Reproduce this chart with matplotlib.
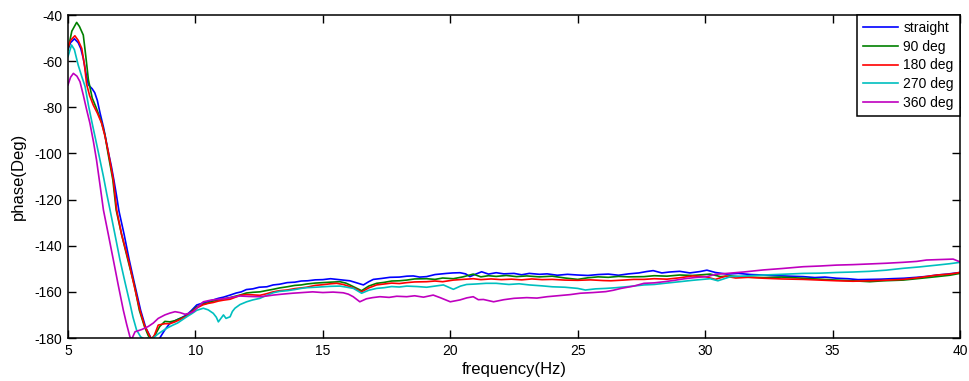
import numpy as np
import matplotlib
matplotlib.use("Agg")
import matplotlib.pyplot as plt

# phase curves, (frequency Hz, phase deg)
f_straight, p_straight = np.array([
    (5.0, -55), (5.1, -52), (5.25, -50.3), (5.4, -52), (5.5, -54.5), (5.6, -58.8), (5.7, -65),
    (5.8, -70.3), (5.95, -72), (6.05, -73.7), (6.15, -77), (6.26, -82.6), (6.4, -89), (6.58, -99.3),
    (6.7, -105.5), (6.8, -111.5), (6.9, -118), (7.0, -125), (7.2, -135), (7.4, -146), (7.6, -156),
    (7.85, -168), (8.05, -175.5), (8.3, -181), (8.45, -182), (8.6, -180), (8.8, -176.5), (9.0, -173.6),
    (9.2, -172.5), (9.4, -171.5), (9.66, -170), (9.85, -168), (10.05, -165.7), (10.3, -164.8),
    (10.5, -164.2), (10.7, -163.5), (10.9, -162.8), (11.1, -162.3), (11.36, -161.4), (11.6, -160.5),
    (11.8, -160), (12.0, -159), (12.25, -158.7), (12.5, -158), (12.8, -157.8), (13.05, -157),
    (13.3, -156.7), (13.6, -156), (13.9, -155.8), (14.15, -155.3), (14.4, -155.2), (14.7, -154.8),
    (15.0, -154.7), (15.3, -154.3), (15.55, -154.6), (15.8, -154.9), (16.06, -155.2), (16.3, -156),
    (16.59, -157), (16.8, -155.6), (16.98, -154.6), (17.3, -154.2), (17.63, -153.7), (18.0, -153.6),
    (18.3, -153.2), (18.55, -153.1), (18.8, -153.6), (19.07, -153.4), (19.4, -152.5), (19.86, -152),
    (20.1, -151.8), (20.38, -151.7), (20.6, -152.2), (20.77, -153.4), (21.0, -152.3), (21.23, -151.3),
    (21.5, -152.3), (21.8, -151.7), (22.1, -152.2), (22.5, -152), (22.8, -152.6), (23.1, -152),
    (23.5, -152.4), (23.8, -152.2), (24.2, -152.8), (24.6, -152.4), (25.0, -152.7), (25.4, -152.9),
    (25.8, -152.5), (26.2, -152.3), (26.6, -152.8), (27.0, -152.2), (27.4, -151.8), (27.7, -151.2),
    (27.96, -150.8), (28.3, -151.8), (28.6, -151.4), (29.0, -151.1), (29.4, -151.8), (29.8, -151.2),
    (30.07, -150.6), (30.4, -151.6), (30.85, -152.3), (31.3, -152.0), (31.8, -152.5), (32.3, -152.7),
    (32.8, -153.0), (33.3, -153.2), (33.85, -153.4), (34.3, -153.8), (34.7, -153.6), (35.16, -154.1),
    (35.6, -154.3), (36.0, -154.7), (36.46, -154.6), (36.9, -154.5), (37.3, -154.3), (37.8, -154.1),
    (38.3, -153.7), (38.7, -153.3), (39.1, -152.7), (39.5, -152.3), (40.0, -151.6),
]).T

f_90, p_90 = np.array([
    (5.0, -55), (5.15, -47), (5.34, -43.2), (5.45, -45), (5.6, -48.7), (5.7, -58), (5.8, -68),
    (5.95, -76), (6.1, -80), (6.3, -86), (6.45, -92), (6.56, -99.3), (6.76, -111.5), (6.89, -124.5),
    (7.1, -135), (7.35, -146.2), (7.6, -157), (7.8, -168), (8.0, -175), (8.15, -179), (8.25, -180.5),
    (8.4, -179), (8.6, -175), (8.8, -172.8), (9.0, -173), (9.2, -172.5), (9.4, -171.5), (9.66, -170.5),
    (9.85, -168.5), (10.05, -166.5), (10.3, -165.3), (10.5, -164.8), (10.7, -164), (10.9, -163.5),
    (11.1, -163), (11.36, -162.5), (11.6, -161.8), (11.75, -161.4), (12.0, -160.5), (12.25, -160.2),
    (12.53, -160), (12.8, -159.4), (13.05, -158.9), (13.3, -158.3), (13.6, -157.8), (13.9, -157.2),
    (14.15, -157), (14.36, -156.6), (14.7, -156.2), (15.0, -156), (15.3, -155.8), (15.67, -155.6),
    (15.9, -156.2), (16.06, -157), (16.3, -158.3), (16.52, -159.5), (16.8, -157.5), (17.11, -156.3),
    (17.4, -155.9), (17.7, -155.3), (18.0, -155.2), (18.29, -154.9), (18.6, -154.4), (19.07, -154.3),
    (19.4, -154.6), (19.7, -154), (20.12, -154.3), (20.5, -153.5), (20.9, -152.3), (21.2, -153.5),
    (21.5, -153), (21.8, -153.3), (22.2, -152.9), (22.6, -153.4), (23.0, -153.1), (23.5, -153.5),
    (24.0, -153.2), (24.5, -154), (25.0, -154.6), (25.4, -153.9), (25.8, -153.5), (26.2, -153.7),
    (26.6, -153.3), (27.0, -153.5), (27.6, -153.4), (28.0, -153), (28.5, -153.2), (29.0, -152.7),
    (29.5, -152.9), (30.2, -152.3), (30.6, -153.4), (31.0, -153.1), (31.5, -153.6), (32.3, -153.8),
    (33.0, -153.6), (33.85, -154.1), (34.5, -154.5), (35.16, -154.9), (35.8, -155.2), (36.46, -155.6),
    (37.0, -155.2), (37.77, -154.9), (38.4, -154.2), (39.1, -153.4), (39.6, -152.8), (40.0, -152),
]).T

f_180, p_180 = np.array([
    (5.0, -54), (5.1, -51), (5.27, -49), (5.4, -51), (5.54, -54.5), (5.65, -62), (5.73, -70),
    (5.85, -75), (5.99, -79), (6.15, -82.5), (6.32, -86.9), (6.45, -92.5), (6.58, -99.3),
    (6.78, -111.5), (6.91, -124.5), (7.1, -135), (7.37, -146.2), (7.6, -157.5), (7.82, -167.9),
    (8.0, -174.5), (8.22, -179.5), (8.3, -180.5), (8.4, -178.5), (8.54, -174.4), (8.8, -173.8),
    (9.0, -173.8), (9.2, -173), (9.4, -172), (9.66, -170.5), (9.85, -168.8), (10.05, -167),
    (10.3, -165.6), (10.5, -165), (10.7, -164.6), (10.9, -164), (11.1, -163.6), (11.36, -163.2),
    (11.6, -162.2), (11.75, -161.5), (12.0, -161.2), (12.25, -161.3), (12.53, -161.5), (12.8, -160.8),
    (13.05, -160), (13.3, -159.5), (13.6, -159.2), (13.9, -158.6), (14.15, -158.3), (14.36, -158),
    (14.7, -157.2), (15.0, -156.9), (15.3, -156.5), (15.54, -156.3), (15.8, -156.8), (16.06, -157.7),
    (16.3, -158.8), (16.52, -160), (16.8, -158.3), (17.11, -157), (17.4, -156.6), (17.7, -156.2),
    (18.0, -156.4), (18.29, -156), (18.6, -155.7), (19.07, -155.6), (19.4, -155.3), (19.7, -155.6),
    (20.12, -154.9), (20.5, -154.6), (20.9, -154.3), (21.2, -154.7), (21.6, -154.4), (22.0, -154.7),
    (22.4, -154.5), (22.8, -154.8), (23.2, -154.4), (23.6, -154.7), (24.0, -154.6), (24.5, -154.9),
    (25.0, -155), (25.5, -154.8), (26.0, -155.1), (26.3, -155.2), (26.8, -154.9), (27.2, -154.6),
    (27.6, -154.6), (28.0, -154.3), (28.5, -154.5), (29.0, -153.9), (29.5, -153.1), (30.0, -153.4),
    (30.4, -154.6), (30.8, -153.2), (31.2, -154), (31.7, -153.7), (32.3, -154.1), (33.0, -154.4),
    (33.85, -154.6), (34.5, -154.9), (35.16, -155.2), (35.8, -155.4), (36.46, -155.2), (37.0, -155.0),
    (37.77, -154.6), (38.4, -153.8), (39.1, -152.7), (39.6, -152.3), (40.0, -151.6),
]).T

f_270, p_270 = np.array([
    (5.0, -58), (5.14, -53), (5.25, -55), (5.4, -61.7), (5.55, -67), (5.67, -71), (5.8, -79),
    (5.93, -86), (6.06, -92.7), (6.22, -101), (6.39, -110), (6.52, -117.5), (6.65, -124.5),
    (6.84, -135), (7.04, -146.2), (7.24, -156), (7.43, -165), (7.55, -171), (7.69, -176.5),
    (7.85, -179.5), (8.0, -180.5), (8.15, -180), (8.3, -180.5), (8.5, -178.5), (8.7, -177),
    (8.87, -175.8), (9.1, -174.5), (9.3, -173.5), (9.5, -172), (9.66, -170.8), (9.85, -169.5),
    (10.05, -168), (10.31, -167.1), (10.5, -167.8), (10.7, -169.3), (10.82, -171), (10.9, -173),
    (11.0, -171.5), (11.1, -170), (11.2, -171.5), (11.36, -170.8), (11.45, -168.5), (11.55, -167.1),
    (11.75, -165.5), (12.01, -164.3), (12.25, -163.5), (12.53, -162.8), (12.8, -161.5), (13.05, -160.4),
    (13.3, -159.8), (13.6, -159.5), (13.9, -159), (14.15, -158.5), (14.36, -158.2), (14.7, -158),
    (15.0, -157.8), (15.3, -157.6), (15.67, -157.5), (15.9, -157.9), (16.2, -158.5), (16.52, -160.6),
    (16.8, -159.3), (17.11, -158.5), (17.4, -158.2), (17.7, -157.7), (18.0, -157.9), (18.29, -157.5),
    (18.7, -157.7), (19.07, -158), (19.4, -157.5), (19.73, -157), (20.12, -158.9), (20.4, -157.5),
    (20.64, -156.8), (21.0, -156.6), (21.4, -156.3), (21.8, -156.3), (22.3, -156.8), (22.7, -156.5),
    (23.1, -157), (23.6, -157.4), (24.0, -157.8), (24.5, -158), (25.0, -158.5), (25.3, -159.2),
    (25.7, -158.7), (26.1, -158.5), (26.5, -158.2), (27.0, -157.7), (27.6, -157), (28.0, -156.8),
    (28.4, -156.3), (29.0, -155.6), (29.5, -155), (30.2, -154.3), (30.5, -155.2), (31.0, -153.4),
    (31.6, -153.1), (32.28, -152.7), (33.0, -152.4), (33.85, -152), (34.5, -151.9), (35.16, -151.6),
    (35.8, -151.4), (36.46, -151.1), (37.1, -150.6), (37.77, -149.8), (38.4, -149.2), (39.1, -148.4),
    (39.6, -147.8), (40.0, -147.2),
]).T

f_360, p_360 = np.array([
    (5.0, -70.3), (5.1, -67), (5.21, -65.3), (5.35, -66.5), (5.47, -68.9), (5.6, -74.7), (5.73, -81),
    (5.86, -86.9), (6.0, -95), (6.12, -102.9), (6.26, -114), (6.39, -124.5), (6.58, -135),
    (6.78, -146.2), (6.97, -157), (7.17, -167.9), (7.3, -174), (7.43, -179.5), (7.5, -180.5),
    (7.63, -177.3), (7.9, -176.3), (8.15, -175), (8.35, -173.5), (8.54, -171.5), (8.8, -170),
    (9.0, -169.2), (9.2, -168.6), (9.4, -169), (9.59, -169.7), (9.75, -169.3), (9.92, -168.6),
    (10.1, -166.5), (10.31, -164.3), (10.6, -163.6), (10.9, -163.2), (11.23, -162.8), (11.5, -162.2),
    (11.75, -161.8), (12.1, -162), (12.53, -162.1), (12.8, -161.8), (13.05, -161.4), (13.4, -161.0),
    (13.8, -160.6), (14.2, -160.3), (14.6, -160), (15.0, -160.3), (15.4, -160.1), (15.8, -160.4),
    (16.0, -161), (16.19, -162.1), (16.45, -164.3), (16.71, -163), (16.95, -162.5), (17.24, -162.1),
    (17.6, -162.4), (17.9, -161.9), (18.29, -162.1), (18.6, -161.7), (18.95, -162.3), (19.33, -161.4),
    (19.6, -162.5), (20.0, -164.3), (20.38, -163.5), (20.65, -162.6), (20.9, -162.1), (21.1, -163.4),
    (21.3, -163.3), (21.7, -164.3), (22.1, -163.4), (22.5, -162.8), (23.0, -162.5), (23.4, -162.7),
    (23.8, -162.1), (24.3, -161.6), (24.7, -161.2), (25.1, -160.6), (25.6, -160.3), (26.1, -159.9),
    (26.4, -159.3), (26.7, -158.5), (27.2, -157.5), (27.6, -156.3), (28.0, -156.1), (28.4, -155.6),
    (28.8, -155), (29.2, -154.3), (29.6, -153.8), (30.07, -153.4), (30.4, -152.4), (30.85, -152),
    (31.5, -151.4), (32.28, -150.5), (33.0, -149.9), (33.85, -149.1), (34.5, -148.8), (35.16, -148.4),
    (35.8, -148.2), (36.46, -147.9), (37.1, -147.6), (37.77, -147.2), (38.3, -146.8), (38.69, -146.2),
    (39.2, -146), (39.73, -145.8), (40.0, -147),
]).T

labels = ["straight", "90 deg", "180 deg", "270 deg", "360 deg"]
colors = ["#0000ff", "#008000", "#ff0000", "#00bfbf", "#bf00bf"]
x_ticks = [5, 10, 15, 20, 25, 30, 35, 40]
y_ticks = [-40, -60, -80, -100, -120, -140, -160, -180]

plt.rcParams['font.family'] = ['Liberation Sans', 'DejaVu Sans']
plt.rcParams['axes.unicode_minus'] = False

fig = plt.figure(figsize=(9.7, 3.81), dpi=100)
ax = fig.add_axes([68 / 970, 1 - 338 / 381, 892 / 970, 323 / 381])

series = [(f_straight, p_straight), (f_90, p_90), (f_180, p_180), (f_270, p_270), (f_360, p_360)]
for (f, p), lab, col in zip(series, labels, colors):
    ax.plot(f, p, color=col, linewidth=1.2, label=lab)

ax.set_xlim(5, 40)
ax.set_ylim(-180, -40)
ax.set_xticks(x_ticks)
ax.set_yticks(y_ticks)
ax.tick_params(direction='in', top=True, right=True, length=6, width=1,
               labelsize=10, pad=4)
for s in ax.spines.values():
    s.set_linewidth(1.1)

ax.set_xlabel('frequency(Hz)', fontsize=12, labelpad=3)
ax.set_ylabel('phase(Deg)', fontsize=12, labelpad=6)

leg = ax.legend(loc='upper right', bbox_to_anchor=(1, 1), borderaxespad=0,
                fancybox=False, edgecolor='black', framealpha=1,
                fontsize=10, handlelength=2.5, handletextpad=0.4,
                labelspacing=0.33, borderpad=0.45)
leg.get_frame().set_linewidth(1.1)

fig.savefig('out.png', dpi=100)
